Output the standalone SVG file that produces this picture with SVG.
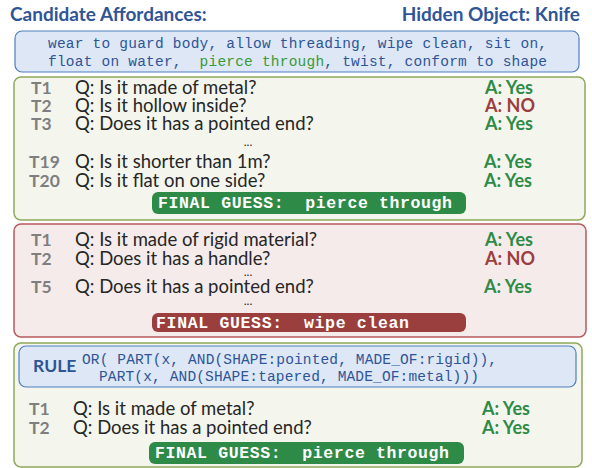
<svg xmlns="http://www.w3.org/2000/svg" width="592" height="468" viewBox="0 0 592 468">
<style>
.bg{fill:#ffffff}
.title{font-family:Lato,"Open Sans",sans-serif;font-weight:bold;font-size:19px;fill:#2f5597}
.aff{fill:#dde7f5;stroke:#4f7ec0;stroke-width:1.2}
.mono{font-family:"Liberation Mono","Courier New",monospace;font-size:14.5px;fill:#2f5597}
.pgreen{fill:#3a9a35}
.gbox{fill:#f4f6ee;stroke:#8fa85a;stroke-width:1.5}
.rbox{fill:#f5ebeb;stroke:#b85a5e;stroke-width:1.5}
.t{font-family:Lato,"Open Sans",sans-serif;font-weight:bold;font-size:17.5px;fill:#7f7f7f}
.q{font-family:Lato,"Open Sans",sans-serif;font-size:18.5px;fill:#262626}
.yes{font-family:Lato,"Open Sans",sans-serif;font-weight:bold;font-size:18px;fill:#2e8b47}
.no{font-family:Lato,"Open Sans",sans-serif;font-weight:bold;font-size:18px;fill:#9e3d3f}
.dots{font-family:Lato,"Open Sans",sans-serif;font-size:12px;fill:#262626}
.pillg{fill:#2e8a47}
.pillr{fill:#9b3e3e}
.fg{font-family:"Liberation Mono","Courier New",monospace;font-weight:bold;font-size:16.5px;fill:#ffffff}
.rule{font-family:Lato,"Open Sans",sans-serif;font-weight:bold;font-size:17.5px;fill:#2f5597}
</style>
<rect class="bg" x="0" y="0" width="592" height="468"/>
<g id="header">
<text class="title" x="10" y="21">Candidate Affordances:</text>
<text class="title" x="580" y="21" text-anchor="end">Hidden Object: Knife</text>
</g>
<g id="affordances">
<rect class="aff" x="15" y="31" width="564" height="41" rx="7"/>
<text class="mono" x="48" y="48" textLength="499" lengthAdjust="spacing">wear to guard body, allow threading, wipe clean, sit on,</text>
<text class="mono" x="48" y="66" textLength="499" lengthAdjust="spacing" xml:space="preserve">float on water,  <tspan class="pgreen">pierce through</tspan>, twist, conform to shape</text>
</g>
<g id="game1">
<rect class="gbox" x="14" y="77" width="571" height="143" rx="7"/>
<text class="t" x="31" y="94">T1</text><text class="q" x="75" y="94">Q: Is it made of metal?</text><text class="yes" x="485" y="94">A: Yes</text>
<text class="t" x="31" y="112">T2</text><text class="q" x="75" y="112">Q: Is it hollow inside?</text><text class="no" x="485" y="112">A: NO</text>
<text class="t" x="31" y="130">T3</text><text class="q" x="75" y="130">Q: Does it has a pointed end?</text><text class="yes" x="485" y="130">A: Yes</text>
<text class="dots" x="248" y="146" text-anchor="middle">...</text>
<text class="t" x="29" y="168">T19</text><text class="q" x="75" y="168">Q: Is it shorter than 1m?</text><text class="yes" x="484" y="168">A: Yes</text>
<text class="t" x="29" y="187">T20</text><text class="q" x="75" y="187">Q: Is it flat on one side?</text><text class="yes" x="484" y="187">A: Yes</text>
<rect class="pillg" x="152" y="192" width="314" height="22" rx="6"/>
<text class="fg" x="158" y="208" textLength="294" lengthAdjust="spacing" xml:space="preserve">FINAL GUESS:  pierce through</text>
</g>
<g id="game2">
<rect class="rbox" x="14" y="224" width="572" height="113" rx="7"/>
<text class="t" x="31" y="246">T1</text><text class="q" x="75" y="246">Q: Is it made of rigid material?</text><text class="yes" x="485" y="246">A: Yes</text>
<text class="t" x="31" y="265">T2</text><text class="q" x="75" y="265">Q: Does it has a handle?</text><text class="no" x="485" y="265">A: NO</text>
<text class="dots" x="248" y="276" text-anchor="middle">...</text>
<text class="t" x="31" y="293">T5</text><text class="q" x="75" y="293">Q: Does it has a pointed end?</text><text class="yes" x="484" y="293">A: Yes</text>
<text class="dots" x="248" y="305" text-anchor="middle">...</text>
<rect class="pillr" x="152" y="313" width="314" height="19" rx="6"/>
<text class="fg" x="156" y="328" textLength="253" lengthAdjust="spacing" xml:space="preserve">FINAL GUESS:  wipe clean</text>
</g>
<g id="game3">
<rect class="gbox" x="14" y="343" width="568" height="124" rx="7"/>
<g id="rule">
<rect class="aff" x="19" y="346" width="557" height="41" rx="7"/>
<text class="rule" x="33" y="372">RULE</text>
<text class="mono" x="82" y="364" textLength="415" lengthAdjust="spacing">OR( PART(x, AND(SHAPE:pointed, MADE_OF:rigid)),</text>
<text class="mono" x="99" y="381" textLength="380" lengthAdjust="spacing">PART(x, AND(SHAPE:tapered, MADE_OF:metal)))</text>
</g>
<text class="t" x="29" y="415">T1</text><text class="q" x="73" y="415">Q: Is it made of metal?</text><text class="yes" x="482" y="415">A: Yes</text>
<text class="t" x="29" y="434">T2</text><text class="q" x="73" y="434">Q: Does it has a pointed end?</text><text class="yes" x="482" y="434">A: Yes</text>
<rect class="pillg" x="149" y="442" width="315" height="22" rx="6"/>
<text class="fg" x="155" y="458" textLength="294" lengthAdjust="spacing" xml:space="preserve">FINAL GUESS:  pierce through</text>
</g>
</svg>
